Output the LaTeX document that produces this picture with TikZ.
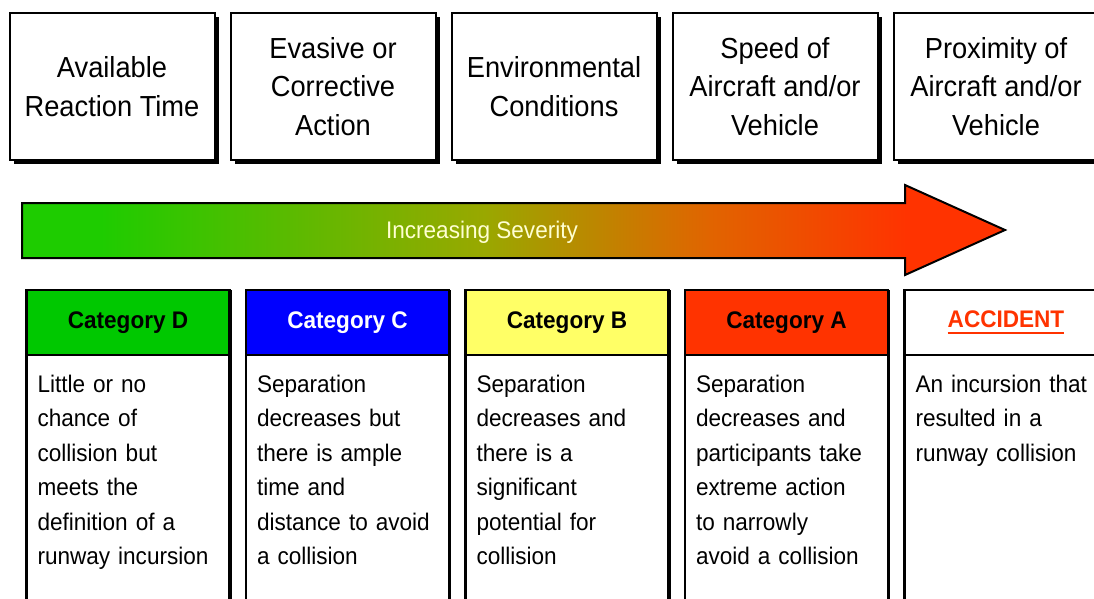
\documentclass[tikz,border=0pt]{standalone}
\usepackage{fontspec}
\setmainfont[FakeStretch=0.94]{Liberation Sans}
\usetikzlibrary{positioning}
\usetikzlibrary{shadows}

\definecolor{catgreen}{RGB}{0,200,0}
\definecolor{catblue}{RGB}{0,0,255}
\definecolor{catyellow}{RGB}{255,255,102}
\definecolor{catred}{RGB}{255,51,0}
\definecolor{sevgreen}{RGB}{30,204,0}
\definecolor{sevolive}{RGB}{153,168,0}
\definecolor{sevorange}{RGB}{225,100,0}
\definecolor{sevred}{RGB}{255,51,0}
\definecolor{sevtext}{RGB}{255,255,210}

% green -> red along the arrow (path box spans 25bp..75bp)
\pgfdeclarehorizontalshading{severity}{100bp}{color(0bp)=(sevgreen); color(29bp)=(sevgreen); color(48.5bp)=(sevolive); color(60bp)=(sevorange); color(70bp)=(sevred); color(100bp)=(sevred)}

% heavy underline
\newcommand{\thickul}[1]{\setbox0=\hbox{#1}\rlap{\raisebox{-6.5pt}{\rule{\wd0}{2.5pt}}}\box0}

\tikzset{
  factor/.style={draw, line width=2pt, fill=white, minimum width=205pt, minimum height=147pt,
    align=center, font=\fontsize{29}{38.5}\selectfont,
    drop shadow={shadow xshift=4pt, shadow yshift=-4pt, fill=black, opacity=1}},
  edgeshadow/.style={drop shadow={shadow xshift=2pt, shadow yshift=0pt, fill=black, opacity=1}},
  cathead/.style={draw, line width=2.5pt, minimum width=203pt, minimum height=65pt,
    font=\bfseries\fontsize{24}{28}\selectfont, edgeshadow},
  catbody/.style={draw, line width=2.5pt, fill=white, text width=181pt, inner xsep=11pt, inner ysep=13pt,
    text height=24pt, text depth=230pt, align=left, font=\fontsize{24}{34.5}\selectfont, edgeshadow},
}

\begin{document}
\begin{tikzpicture}[x=1pt, y=-1pt]
    \useasboundingbox (0,0) rectangle (1094,598);
    \fill[white] (0,0) rectangle (1094,598);
    \clip (0,0) rectangle (1094,598);

    % contributing factors
    \node[factor] (time) at (112,86.5) {Available\\Reaction Time};
    \node[factor] [right=14pt of time] (action) {Evasive or\\Corrective\\Action};
    \node[factor] [right=14pt of action] (env) {Environmental\\Conditions};
    \node[factor] [right=14pt of env] (speed) {Speed of\\Aircraft and/or\\Vehicle};
    \node[factor] [right=14pt of speed] (prox) {Proximity of\\Aircraft and/or\\Vehicle};

    % severity arrow
    \shadedraw[shading=severity, line width=2pt, line join=miter]
      (22,203) -- (905,203) -- (905,185) -- (1005,230) -- (905,275) -- (905,258) -- (22,258) -- cycle;
    \node[text=sevtext, font=\fontsize{24}{28}\selectfont] (sev) at (482,232) {Increasing Severity};

    % categories
    \node[cathead, fill=catgreen] (catD) at (128,322.5) {Category D};
    \node[catbody] [below=-2.5pt of catD] (txtD) {Little or no\\chance of\\collision but\\meets the\\definition of a\\runway incursion};

    \node[cathead, fill=catblue, text=white] [right=14pt of catD] (catC) {Category C};
    \node[catbody] [below=-2.5pt of catC] (txtC) {Separation\\decreases but\\there is ample\\time and\\distance to avoid\\a collision};

    \node[cathead, fill=catyellow] [right=14pt of catC] (catB) {Category B};
    \node[catbody] [below=-2.5pt of catB] (txtB) {Separation\\decreases and\\there is a\\significant\\potential for\\collision};

    \node[cathead, fill=catred] [right=14pt of catB] (catA) {Category A};
    \node[catbody] [below=-2.5pt of catA] (txtA) {Separation\\decreases and\\participants take\\extreme action\\to narrowly\\avoid a collision};

    \node[cathead, fill=white, text=catred] [right=14pt of catA] (acc) {\thickul{ACCIDENT}};
    \node[catbody] [below=-2.5pt of acc] (txtAcc) {An incursion that\\resulted in a\\runway collision};

\end{tikzpicture}
\end{document}
